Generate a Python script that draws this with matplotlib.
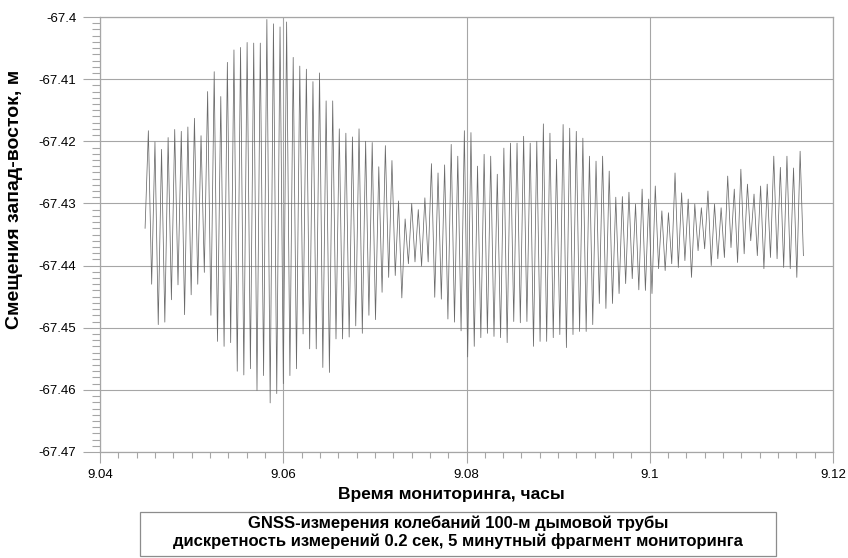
import matplotlib
matplotlib.use("Agg")
import matplotlib.pyplot as plt
import numpy as np
from matplotlib.patches import Rectangle
from matplotlib.ticker import MultipleLocator, FuncFormatter

# GNSS east-west displacement
# (successive maxima / minima of each oscillation cycle)
t_start = 9.04492
t_end = 9.11677
first_value = -67.4340
last_value = -67.4384

peaks = [
    -67.4183, -67.4201, -67.4213, -67.4194, -67.4181, -67.4184, -67.4177, -67.4163, -67.4191, -67.4120,
    -67.4088, -67.4128, -67.4073, -67.4053, -67.4049, -67.4041, -67.4042, -67.4042, -67.4004, -67.4011,
    -67.4016, -67.4008, -67.4065, -67.4079, -67.4084, -67.4104, -67.4090, -67.4135, -67.4135, -67.4180,
    -67.4187, -67.4193, -67.4180, -67.4200, -67.4202, -67.4241, -67.4207, -67.4231, -67.4296, -67.4325,
    -67.4300, -67.4310, -67.4291, -67.4236, -67.4251, -67.4238, -67.4205, -67.4224, -67.4183, -67.4186,
    -67.4240, -67.4221, -67.4224, -67.4253, -67.4211, -67.4203, -67.4203, -67.4192, -67.4203, -67.4200,
    -67.4172, -67.4187, -67.4229, -67.4173, -67.4179, -67.4184, -67.4195, -67.4224, -67.4232, -67.4224,
    -67.4248, -67.4290, -67.4289, -67.4282, -67.4301, -67.4277, -67.4293, -67.4272, -67.4312, -67.4315,
    -67.4251, -67.4283, -67.4293, -67.4301, -67.4307, -67.4280, -67.4301, -67.4307, -67.4256, -67.4277,
    -67.4245, -67.4269, -67.4285, -67.4272, -67.4269, -67.4224, -67.4242, -67.4224, -67.4243, -67.4216,
]

troughs = [
    -67.4430, -67.4495, -67.4491, -67.4455, -67.4431, -67.4479, -67.4447, -67.4430, -67.4411, -67.4480,
    -67.4522, -67.4530, -67.4524, -67.4570, -67.4576, -67.4566, -67.4601, -67.4577, -67.4621, -67.4606,
    -67.4590, -67.4577, -67.4566, -67.4510, -67.4534, -67.4534, -67.4564, -67.4572, -67.4518, -67.4518,
    -67.4515, -67.4497, -67.4509, -67.4480, -67.4487, -67.4443, -67.4419, -67.4416, -67.4452, -67.4397,
    -67.4394, -67.4401, -67.4394, -67.4451, -67.4454, -67.4486, -67.4491, -67.4505, -67.4547, -67.4530,
    -67.4516, -67.4509, -67.4514, -67.4516, -67.4524, -67.4490, -67.4492, -67.4490, -67.4530, -67.4522,
    -67.4522, -67.4516, -67.4511, -67.4532, -67.4511, -67.4506, -67.4506, -67.4495, -67.4461, -67.4469,
    -67.4461, -67.4445, -67.4429, -67.4421, -67.4439, -67.4440, -67.4445, -67.4405, -67.4408, -67.4397,
    -67.4403, -67.4392, -67.4419, -67.4376, -67.4373, -67.4400, -67.4389, -67.4387, -67.4371, -67.4395,
    -67.4381, -67.4360, -67.4384, -67.4405, -67.4387, -67.4389, -67.4403, -67.4405, -67.4419,
]

x_ticks = [9.04, 9.06, 9.08, 9.1, 9.12]
y_ticks = [-67.47, -67.46, -67.45, -67.44, -67.43, -67.42, -67.41, -67.4]

x_label = "Время мониторинга, часы"
y_label = "Смещения запад-восток, м"
caption = ["GNSS-измерения колебаний 100-м дымовой трубы",
           "дискретность измерений 0.2 сек, 5 минутный фрагмент мониторинга"]

# --------------------------------------------------------
# series: start, P1, T1, P2, T2, ..., P100, end
# --------------------------------------------------------
values = [first_value]
for i, p in enumerate(peaks):
    values.append(p)
    if i < len(troughs):
        values.append(troughs[i])
values.append(last_value)
values = np.array(values)
times = np.linspace(t_start, t_end, len(values))

plt.rcParams["font.family"] = ["Liberation Sans", "DejaVu Sans"]
grid_col = "#a6a6a6"

fig = plt.figure(figsize=(8.48, 5.58), dpi=100)
ax = fig.add_axes([100 / 848, 1 - 452 / 558, 733 / 848, 435 / 558])

ax.plot(times, values, color="#6a6a6a", lw=0.55)

ax.set_xlim(9.04, 9.12)
ax.set_ylim(-67.47, -67.4)
ax.set_xticks(x_ticks)
ax.set_yticks(y_ticks)
ax.xaxis.set_minor_locator(MultipleLocator(0.002))
ax.yaxis.set_minor_locator(MultipleLocator(0.001))
fmt = FuncFormatter(lambda v, p: f"{round(v, 3):g}")
ax.xaxis.set_major_formatter(fmt)
ax.yaxis.set_major_formatter(fmt)

ax.grid(True, which="major", color=grid_col, lw=0.8)
ax.set_axisbelow(True)
for s in ax.spines.values():
    s.set_color(grid_col)
    s.set_linewidth(0.9)

ax.tick_params(axis="y", which="major", length=12, width=0.8, color=grid_col,
               pad=5, labelsize=9.5)
ax.tick_params(axis="y", which="minor", length=6, width=0.8, color=grid_col)
ax.tick_params(axis="x", which="major", length=8, width=0.8, color=grid_col,
               pad=4, labelsize=9.5)
ax.tick_params(axis="x", which="minor", length=4.5, width=0.8, color=grid_col)

fig.text(451 / 848, 1 - 494 / 558, x_label, ha="center", va="center",
         fontsize=12.5, fontweight="bold")
fig.text(15 / 848, 1 - 199 / 558, y_label, ha="center", va="center",
         rotation=90, fontsize=14, fontweight="bold")

# caption box under the chart
fig.patches.append(Rectangle((140 / 848, 1 - 556 / 558), 636 / 848, 44 / 558,
                             transform=fig.transFigure, fill=False,
                             edgecolor="#8c8c8c", lw=0.9))
fig.text(458 / 848, 1 - 523 / 558, caption[0], ha="center", va="center",
         fontsize=12, fontweight="bold")
fig.text(458 / 848, 1 - 541 / 558, caption[1], ha="center", va="center",
         fontsize=12, fontweight="bold")

fig.savefig("out.png", dpi=100)
